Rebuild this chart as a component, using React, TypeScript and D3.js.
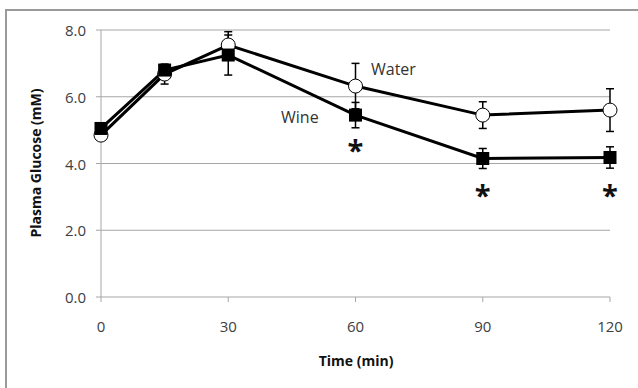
import React from 'react';
import * as d3 from 'd3';

// time points (min)
const times = [0, 15, 30, 60, 90, 120];

// plasma glucose (mM), mean and error
const waterMean = [4.85, 6.68, 7.55, 6.32, 5.45, 5.6];
const waterErr = [0.1, 0.3, 0.4, 0.68, 0.4, 0.64];
const wineMean = [5.05, 6.8, 7.25, 5.45, 4.15, 4.18];
const wineErr = [0.1, 0.15, 0.6, 0.38, 0.3, 0.32];

// significance markers (time, y position in mM)
const starTimes = [60, 90, 120];
const starLevels = [4.55, 3.2, 3.2];

const xTicks = [0, 30, 60, 90, 120];
const yTicks = [0, 2, 4, 6, 8];

const W = 638;
const H = 388;
const font = '"Open Sans", "DejaVu Sans", sans-serif';

export default function App() {
  const x = d3.scaleLinear().domain([0, 120]).range([101, 610]);
  const y = d3.scaleLinear().domain([0, 8]).range([297, 30]);

  const water = times.map((t, i) => ({ t, v: waterMean[i], e: waterErr[i] }));
  const wine = times.map((t, i) => ({ t, v: wineMean[i], e: wineErr[i] }));

  const line = d3
    .line<{ t: number; v: number }>()
    .x((d) => x(d.t))
    .y((d) => y(d.v));

  const errBars = (data: { t: number; v: number; e: number }[], key: string) =>
    data.map((d, i) => (
      <g key={key + i} stroke="#000" strokeWidth={1.5}>
        <line x1={x(d.t)} x2={x(d.t)} y1={y(d.v + d.e)} y2={y(d.v - d.e)} />
        <line x1={x(d.t) - 4} x2={x(d.t) + 4} y1={y(d.v + d.e)} y2={y(d.v + d.e)} />
        <line x1={x(d.t) - 4} x2={x(d.t) + 4} y1={y(d.v - d.e)} y2={y(d.v - d.e)} />
      </g>
    ));

  return (
    <div style={{ position: 'absolute', left: 0, top: 0 }}>
      <svg width={W} height={H} style={{ display: 'block', background: '#fff' }}>
        {/* outer frame */}
        <rect x={6} y={10} width={W + 20} height={H + 20} fill="#fff" stroke="#9a9a9a" strokeWidth={2} />

        {/* gridlines */}
        {yTicks.map((t) => (
          <g key={'gy' + t}>
            <line x1={96} x2={x(120)} y1={y(t)} y2={y(t)} stroke="#a6a6a6" strokeWidth={1} />
            <text
              x={86}
              y={y(t)}
              textAnchor="end"
              dominantBaseline="central"
              fontFamily={font}
              fontSize={15}
              fill="#404040"
            >
              {t.toFixed(1)}
            </text>
          </g>
        ))}

        {/* axes */}
        <line x1={x(0)} x2={x(0)} y1={y(8)} y2={y(0)} stroke="#a6a6a6" strokeWidth={1} />
        {xTicks.map((t) => (
          <g key={'gx' + t}>
            <line x1={x(t)} x2={x(t)} y1={y(0)} y2={y(0) + 5} stroke="#a6a6a6" strokeWidth={1} />
            <text
              x={x(t)}
              y={y(0) + 29}
              textAnchor="middle"
              dominantBaseline="central"
              fontFamily={font}
              fontSize={15}
              fill="#404040"
            >
              {t}
            </text>
          </g>
        ))}

        {/* axis titles */}
        <text
          x={356}
          y={360}
          textAnchor="middle"
          dominantBaseline="central"
          fontFamily={font}
          fontSize={14}
          fontWeight="bold"
          fill="#111"
        >
          Time (min)
        </text>
        <text
          transform={`translate(35, 163) rotate(-90)`}
          textAnchor="middle"
          dominantBaseline="central"
          fontFamily={font}
          fontSize={14}
          fontWeight="bold"
          fill="#111"
        >
          Plasma Glucose (mM)
        </text>

        {/* error bars */}
        {errBars(water, 'we')}
        {errBars(wine, 'ne')}

        {/* lines */}
        <path d={line(water) || ''} fill="none" stroke="#000" strokeWidth={3} />
        <path d={line(wine) || ''} fill="none" stroke="#000" strokeWidth={3} />

        {/* markers */}
        {water.map((d, i) => (
          <circle key={'wc' + i} cx={x(d.t)} cy={y(d.v)} r={7} fill="#fff" stroke="#000" strokeWidth={1} />
        ))}
        {wine.map((d, i) => (
          <rect key={'ns' + i} x={x(d.t) - 6.5} y={y(d.v) - 6.5} width={13} height={13} fill="#000" />
        ))}

        {/* series labels */}
        <text x={371} y={69} dominantBaseline="central" fontFamily={font} fontSize={16} fill="#333">
          Water
        </text>
        <text x={281} y={117} dominantBaseline="central" fontFamily={font} fontSize={16} fill="#333">
          Wine
        </text>

        {/* significance stars */}
        {starTimes.map((t, i) => (
          <text
            key={'st' + i}
            x={x(t)}
            y={y(starLevels[i]) + 16}
            textAnchor="middle"
            fontFamily={font}
            fontSize={29}
            fontWeight="bold"
            fill="#111"
          >
            *
          </text>
        ))}
      </svg>
    </div>
  );
}
